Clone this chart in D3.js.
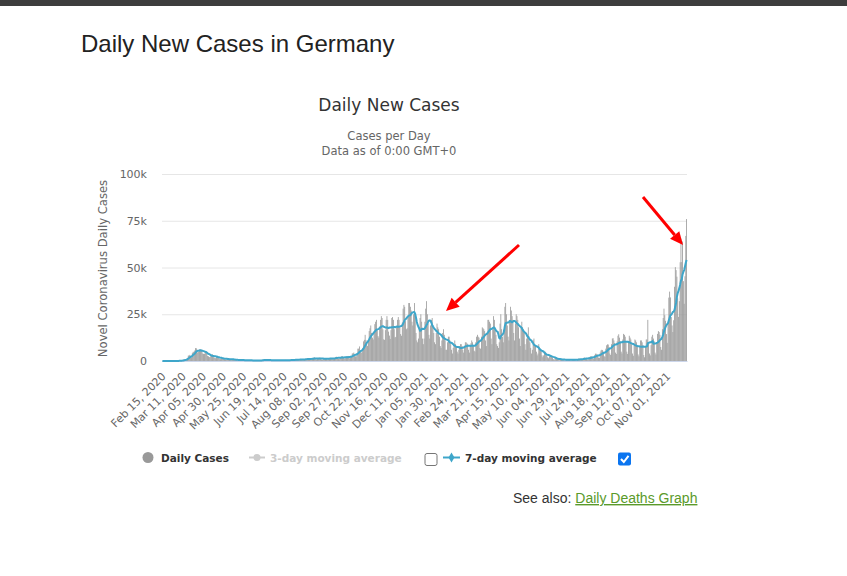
<!DOCTYPE html>
<html>
<head>
<meta charset="utf-8">
<title>Daily New Cases in Germany</title>
<script src="https://cdn.jsdelivr.net/npm/d3@7"></script>
<style>
  body { margin: 0; background: #fff; }
  svg text { font-family: "DejaVu Sans", Verdana, sans-serif; }
</style>
</head>
<body>
<svg id="page" width="847" height="576"></svg>
<script>
// Daily new cases in Germany - worldometers style graph redrawn with d3

const firstDay = new Date(2020, 1, 15);   // Feb 15, 2020 (Saturday)
const lastDay = new Date(2021, 10, 25);   // Nov 25, 2021

// daily new cases in thousands, one row per week (Sat .. Fri)
const dailyCasesK = [
  0, 0, 0, 0, 0, 0, 0,
  0, 0, 0, 0, 0.01, 0.01, 0.02,
  0.05, 0.02, 0.03, 0.05, 0.04, 0.1, 0.16,
  0.2, 0.15, 0.25, 0.3, 0.4, 0.65, 0.8,
  0.9, 1.0, 1.2, 1.6, 2.9, 2.9, 3.3,
  2.7, 1.9, 4.2, 4.9, 4.9, 5.6, 6.9,
  6.8, 4.4, 4.8, 4.9, 6.2, 6.1, 6.1,
  5.9, 4.0, 3.8, 3.8, 4.9, 5.3, 4.1,
  2.7, 2.5, 2.1, 2.1, 2.9, 3.4, 3.6,
  2.5, 1.8, 1.7, 1.5, 2.4, 2.3, 2.3,
  1.7, 1.0, 1.0, 1.2, 1.5, 1.6, 1.6,
  1.0, 0.7, 0.7, 0.9, 1.2, 1.3, 1.2,
  1.0, 0.6, 0.5, 0.9, 0.8, 0.8, 0.6,
  0.6, 0.5, 0.3, 0.5, 0.8, 0.7, 0.6,
  0.4, 0.3, 0.3, 0.4, 0.5, 0.5, 0.5,
  0.4, 0.2, 0.2, 0.3, 0.4, 0.5, 0.4,
  0.3, 0.2, 0.2, 0.3, 0.4, 0.3, 0.3,
  0.3, 0.2, 0.2, 0.3, 0.6, 0.7, 0.8,
  0.6, 0.4, 0.5, 0.5, 0.6, 0.6, 0.5,
  0.4, 0.3, 0.3, 0.4, 0.5, 0.5, 0.4,
  0.3, 0.2, 0.3, 0.4, 0.5, 0.5, 0.4,
  0.3, 0.2, 0.2, 0.4, 0.5, 0.6, 0.5,
  0.4, 0.3, 0.3, 0.5, 0.6, 0.7, 0.8,
  0.6, 0.4, 0.4, 0.6, 0.9, 0.9, 1.0,
  0.8, 0.5, 0.5, 0.8, 1.0, 1.0, 1.1,
  1.0, 0.6, 0.7, 1.2, 1.2, 1.4, 1.4,
  1.2, 0.8, 0.7, 1.4, 1.5, 1.7, 2.0,
  1.4, 0.9, 0.8, 1.4, 1.6, 1.7, 1.8,
  1.3, 0.8, 0.6, 1.2, 1.3, 1.5, 1.6,
  1.3, 0.8, 0.8, 1.3, 1.6, 1.6, 1.6,
  1.5, 1.0, 1.0, 1.4, 2.0, 2.2, 2.3,
  1.8, 1.2, 1.0, 1.8, 2.2, 2.5, 2.5,
  2.0, 1.4, 1.2, 2.0, 2.5, 2.6, 2.7,
  2.4, 1.4, 2.0, 2.6, 4.0, 4.1, 4.5,
  3.5, 2.5, 2.5, 4.1, 6.6, 6.6, 7.8,
  5.6, 4.3, 4.7, 7.0, 10.5, 11.3, 14.0,
  11.2, 9.0, 8.0, 11.4, 16.0, 17.5, 19.0,
  15.0, 12.5, 11.5, 15.3, 19.7, 21.0, 22.0,
  16.5, 13.3, 12.5, 18.4, 22.0, 24.0, 23.0,
  16.9, 11.6, 11.3, 16.5, 22.0, 24.0, 22.0,
  15.7, 13.6, 11.8, 16.5, 23.0, 23.5, 22.0,
  17.0, 12.6, 12.9, 18.0, 22.0, 23.5, 22.0,
  17.8, 14.4, 13.5, 20.5, 28.0, 30.0, 29.0,
  21.3, 17.0, 17.5, 24.0, 31.0, 31.0, 29.0,
  27.0, 21.0, 19.0, 25.0, 31.0, 24.0, 15.0,
  11.0, 10.0, 12.0, 18.0, 23.0, 25.0, 21.0,
  12.0, 9.0, 12.0, 21.0, 28.0, 32.0, 25.0,
  20.0, 14.0, 12.0, 19.0, 22.0, 23.0, 19.0,
  15.0, 10.0, 9.0, 15.0, 20.0, 18.0, 17.0,
  13.0, 8.0, 7.0, 11.0, 15.0, 17.0, 14.0,
  11.0, 6.0, 6.0, 10.0, 13.0, 13.0, 11.0,
  9.0, 6.0, 4.0, 7.0, 9.0, 11.0, 9.0,
  7.5, 5.0, 4.0, 6.0, 8.0, 9.0, 9.0,
  8.0, 6.0, 4.5, 8.0, 10.0, 10.0, 9.5,
  9.0, 6.0, 4.5, 8.0, 9.5, 11.0, 10.0,
  8.5, 5.5, 5.0, 10.0, 13.0, 14.0, 13.0,
  12.5, 7.0, 6.5, 13.0, 18.0, 17.5, 17.0,
  16.0, 11.0, 8.0, 15.0, 22.0, 22.0, 21.0,
  20.0, 12.0, 9.0, 17.0, 24.0, 22.0, 16.0,
  14.0, 9.0, 8.0, 7.0, 10.0, 20.0, 25.0,
  17.0, 13.0, 10.0, 17.0, 29.0, 31.0, 25.0,
  19.0, 13.0, 11.0, 22.0, 29.0, 27.0, 24.0,
  22.0, 15.0, 11.0, 20.0, 25.0, 24.0, 22.0,
  18.0, 12.0, 8.0, 18.0, 21.0, 18.0, 17.0,
  15.0, 9.0, 6.0, 12.0, 14.0, 18.0, 11.0,
  10.0, 7.0, 4.0, 6.0, 11.0, 12.0, 9.0,
  8.0, 5.0, 3.0, 4.0, 9.0, 7.0, 6.5,
  5.0, 3.0, 2.0, 3.0, 4.5, 5.0, 3.5,
  3.0, 2.0, 1.5, 2.5, 3.0, 3.0, 2.5,
  2.0, 1.0, 0.6, 1.5, 1.5, 1.6, 1.2,
  1.0, 0.5, 0.4, 0.9, 1.0, 1.0, 0.9,
  0.7, 0.3, 0.2, 0.8, 0.9, 0.9, 0.6,
  0.6, 0.4, 0.2, 0.7, 0.9, 0.9, 0.8,
  0.7, 0.4, 0.3, 0.9, 1.2, 1.3, 1.2,
  1.0, 0.6, 0.5, 1.4, 1.8, 1.8, 1.6,
  1.5, 0.8, 0.7, 1.8, 2.2, 2.5, 2.4,
  2.4, 1.3, 1.2, 3.0, 3.9, 3.9, 3.6,
  3.3, 1.8, 1.6, 4.5, 5.6, 6.0, 5.8,
  5.0, 2.5, 2.3, 6.6, 8.4, 8.9, 8.8,
  7.5, 4.0, 3.2, 9.0, 12.0, 12.2, 11.0,
  9.6, 4.5, 3.8, 10.5, 13.5, 14.3, 12.5,
  10.5, 5.0, 4.0, 11.5, 14.5, 14.0, 13.0,
  10.5, 5.0, 3.8, 10.5, 13.5, 12.5, 11.5,
  9.0, 4.0, 2.8, 8.5, 11.5, 11.0, 10.0,
  8.3, 3.5, 2.5, 7.5, 11.0, 11.0, 10.0,
  8.5, 3.2, 2.0, 8.0, 11.5, 11.5, 22.0,
  10.0, 4.0, 3.0, 8.5, 13.0, 14.0, 12.0,
  10.5, 4.5, 3.5, 10.0, 14.5, 16.0, 15.5,
  14.0, 7.5, 6.0, 17.0, 23.0, 28.0, 24.5,
  21.5, 14.4, 9.7, 20.4, 33.9, 37.1, 34.0,
  23.5, 19.0, 15.5, 21.8, 39.7, 50.2, 48.6,
  45.1, 33.5, 23.6, 32.0, 52.8, 65.4, 52.9,
  63.9, 42.7, 30.6, 45.3, 66.9, 75.9
];

const yTicks = [0, 25, 50, 75, 100];
const xTickLabels = [
  'Feb 15, 2020', 'Mar 11, 2020', 'Apr 05, 2020', 'Apr 30, 2020', 'May 25, 2020',
  'Jun 19, 2020', 'Jul 14, 2020', 'Aug 08, 2020', 'Sep 02, 2020', 'Sep 27, 2020',
  'Oct 22, 2020', 'Nov 16, 2020', 'Dec 11, 2020', 'Jan 05, 2021', 'Jan 30, 2021',
  'Feb 24, 2021', 'Mar 21, 2021', 'Apr 15, 2021', 'May 10, 2021', 'Jun 04, 2021',
  'Jun 29, 2021', 'Jul 24, 2021', 'Aug 18, 2021', 'Sep 12, 2021', 'Oct 07, 2021',
  'Nov 01, 2021'
];
const xTickEvery = 25;
const legendLabels = ['Daily Cases', '3-day moving average', '7-day moving average'];

const days = d3.timeDay.range(firstDay, d3.timeDay.offset(lastDay, 1));
if (days.length !== dailyCasesK.length) console.warn('day count mismatch', days.length, dailyCasesK.length);

// trailing 7 day mean of the daily series
const avg7 = dailyCasesK.map((v, i) => d3.mean(dailyCasesK.slice(Math.max(0, i - 6), i + 1)));

const svg = d3.select('#page');
const plot = { left: 162, right: 687, top: 174, bottom: 361 };

// page chrome
svg.append('rect').attr('width', 847).attr('height', 6).attr('fill', '#3d3d3d');

svg.append('text')
    .attr('x', 81).attr('y', 52)
    .style('font-family', '"Liberation Sans", Arial, sans-serif')
    .attr('font-size', '24px')
    .attr('fill', '#222')
    .text('Daily New Cases in Germany');

// titles
svg.append('text')
    .attr('x', 389).attr('y', 111)
    .attr('text-anchor', 'middle')
    .attr('font-size', '17px')
    .attr('fill', '#333')
    .text('Daily New Cases');

svg.append('text')
    .attr('x', 389).attr('y', 140)
    .attr('text-anchor', 'middle')
    .attr('font-size', '11.5px')
    .attr('fill', '#666')
    .text('Cases per Day');

svg.append('text')
    .attr('x', 389).attr('y', 155)
    .attr('text-anchor', 'middle')
    .attr('font-size', '11.5px')
    .attr('fill', '#666')
    .text('Data as of 0:00 GMT+0');

// scales
const x = d3.scaleBand()
    .domain(d3.range(dailyCasesK.length))
    .range([plot.left, plot.right])
    .padding(0);

const y = d3.scaleLinear()
    .domain([0, 100])
    .range([plot.bottom, plot.top]);

// grid + y axis
const yAxis = svg.append('g')
    .attr('transform', `translate(${plot.left},0)`)
    .call(d3.axisLeft(y)
        .tickValues(yTicks)
        .tickSize(-(plot.right - plot.left))
        .tickPadding(15)
        .tickFormat(d => d === 0 ? '0' : d + 'k'));
yAxis.select('.domain').remove();
yAxis.selectAll('.tick line').attr('stroke', '#e6e6e6');
yAxis.selectAll('.tick text')
    .attr('fill', '#666')
    .attr('font-size', '11px')
    .style('font-family', '"DejaVu Sans", sans-serif');

svg.append('text')
    .attr('transform', `translate(107,${(plot.top + plot.bottom) / 2 + 1}) rotate(-90)`)
    .attr('text-anchor', 'middle')
    .attr('font-size', '11.6px')
    .attr('fill', '#666')
    .text('Novel Coronavirus Daily Cases');

// columns
svg.append('g')
    .selectAll('rect')
    .data(dailyCasesK)
    .enter()
    .append('rect')
    .attr('x', (d, i) => x(i))
    .attr('y', d => y(d))
    .attr('width', x.bandwidth())
    .attr('height', d => y(0) - y(d))
    .attr('fill', '#999');

// x axis
const xAxis = svg.append('g')
    .attr('transform', `translate(0,${plot.bottom})`)
    .call(d3.axisBottom(x)
        .tickValues(xTickLabels.map((l, k) => k * xTickEvery))
        .tickSize(0)
        .tickFormat(i => xTickLabels[i / xTickEvery]));
xAxis.select('.domain').attr('stroke', '#ccd6eb');
xAxis.selectAll('.tick text')
    .attr('fill', '#666')
    .attr('font-size', '11px')
    .style('font-family', '"DejaVu Sans", sans-serif')
    .attr('text-anchor', 'end')
    .attr('dy', null)
    .attr('y', 0)
    .attr('transform', 'translate(4,16) rotate(-45)');

// 7-day moving average
const line = d3.line()
    .x((d, i) => x(i) + x.bandwidth() / 2)
    .y(d => y(d));

svg.append('path')
    .datum(avg7)
    .attr('d', line)
    .attr('fill', 'none')
    .attr('stroke', '#3ea6ca')
    .attr('stroke-width', 2)
    .attr('stroke-linejoin', 'round');

// legend
const legend = svg.append('g').attr('font-size', '10.5px').attr('font-weight', 'bold');

legend.append('circle').attr('cx', 148).attr('cy', 457.5).attr('r', 5.5).attr('fill', '#999');
legend.append('text').attr('x', 161).attr('y', 461.5).attr('fill', '#333').text(legendLabels[0]);

legend.append('line').attr('x1', 249).attr('x2', 265).attr('y1', 457.5).attr('y2', 457.5)
    .attr('stroke', '#ccc').attr('stroke-width', 2);
legend.append('circle').attr('cx', 257).attr('cy', 457.5).attr('r', 3.5).attr('fill', '#ccc');
legend.append('text').attr('x', 270).attr('y', 461.5).attr('fill', '#ccc').text(legendLabels[1]);

legend.append('rect').attr('x', 425).attr('y', 453.5).attr('width', 12).attr('height', 12)
    .attr('rx', 2).attr('fill', '#fff').attr('stroke', '#767676');

legend.append('line').attr('x1', 443).attr('x2', 460).attr('y1', 457.5).attr('y2', 457.5)
    .attr('stroke', '#3ea6ca').attr('stroke-width', 2);
legend.append('path')
    .attr('transform', 'translate(451.5,457.5)')
    .attr('d', d3.symbol(d3.symbolDiamond, 30)())
    .attr('fill', '#3ea6ca');
legend.append('text').attr('x', 465).attr('y', 461.5).attr('fill', '#333').text(legendLabels[2]);

legend.append('rect').attr('x', 618).attr('y', 452.5).attr('width', 13).attr('height', 13)
    .attr('rx', 2).attr('fill', '#0b75f0');
legend.append('path')
    .attr('d', 'M621,459 L623.8,462 L628.5,455.8')
    .attr('fill', 'none').attr('stroke', '#fff').attr('stroke-width', 2);

// see also link
const seeAlso = svg.append('text')
    .attr('x', 513).attr('y', 503)
    .style('font-family', '"Liberation Sans", Arial, sans-serif')
    .attr('font-size', '14px')
    .attr('fill', '#333');
seeAlso.append('tspan').text('See also: ');
seeAlso.append('tspan')
    .attr('fill', '#5a9a2a')
    .attr('text-decoration', 'underline')
    .text('Daily Deaths Graph');

// red annotation arrows
function arrow(x1, y1, x2, y2) {
    const a = Math.atan2(y2 - y1, x2 - x1);
    const len = 13, half = 6;
    const bx = x2 - len * Math.cos(a), by = y2 - len * Math.sin(a);
    svg.append('line')
        .attr('x1', x1).attr('y1', y1).attr('x2', bx).attr('y2', by)
        .attr('stroke', '#f00').attr('stroke-width', 3);
    svg.append('path')
        .attr('d', `M${x2},${y2} L${bx + half * Math.sin(a)},${by - half * Math.cos(a)} L${bx - half * Math.sin(a)},${by + half * Math.cos(a)} Z`)
        .attr('fill', '#f00');
}
arrow(519, 245, 446, 311);
arrow(643, 197, 683, 245);
</script>
</body>
</html>
